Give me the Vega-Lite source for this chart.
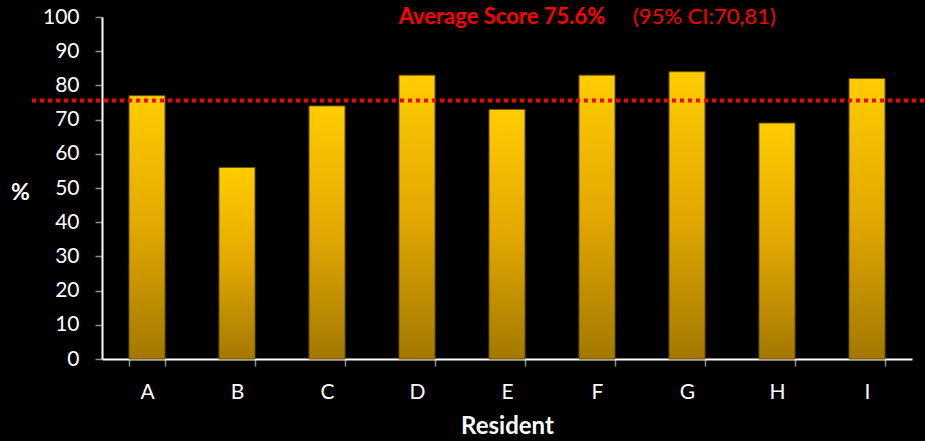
{
  "$schema": "https://vega.github.io/schema/vega-lite/v6.json",
  "width": 810,
  "height": 342,
  "autosize": {"type": "none"},
  "padding": {"left": 102, "top": 17, "right": 13, "bottom": 82},
  "background": "#000000",
  "config": {
    "view": {"stroke": null},
    "font": "Lato",
    "axis": {
      "grid": false,
      "labelColor": "#FFFFFF",
      "labelFont": "Lato",
      "labelFontSize": 21,
      "labelOverlap": false,
      "labelFlush": false,
      "domainColor": "#FFFFFF",
      "domainWidth": 2,
      "tickColor": "#8C8C8C",
      "tickSize": 7,
      "tickWidth": 1.5,
      "titleColor": "#FFFFFF",
      "titleFont": "Lato",
      "titleFontWeight": "bold"
    },
    "axisX": {
      "titleFontSize": 24,
      "titlePadding": 12,
      "labelAngle": 0,
      "labelPadding": 15,
      "tickBand": "extent"
    },
    "axisY": {
      "tickCount": 11,
      "titleAngle": 0,
      "titleFontSize": 23,
      "titleX": -82,
      "titleY": 175,
      "titleAlign": "center",
      "titleBaseline": "middle",
      "labelPadding": 16
    }
  },
  "datasets": {
    "scores": [
      {"resident": "A", "score": 77},
      {"resident": "B", "score": 56},
      {"resident": "C", "score": 74},
      {"resident": "D", "score": 83},
      {"resident": "E", "score": 73},
      {"resident": "F", "score": 83},
      {"resident": "G", "score": 84},
      {"resident": "H", "score": 69},
      {"resident": "I", "score": 82}
    ],
    "summary": [
      {"average": 75.6, "headline": "Average Score 75.6%", "interval": "(95% CI:70,81)", "anchor": "E", "anchor2": "G", "top": 100}
    ]
  },
  "layer": [
    {
      "data": {"name": "scores"},
      "mark": {
        "type": "bar",
        "stroke": "#6b5000",
        "strokeWidth": 1,
        "color": {
          "gradient": "linear",
          "x1": 0, "y1": 0, "x2": 0, "y2": 1,
          "stops": [
            {"offset": 0, "color": "#FFCC00"},
            {"offset": 0.5, "color": "#E2A800"},
            {"offset": 1, "color": "#A27800"}
          ]
        }
      },
      "encoding": {
        "x": {
          "field": "resident",
          "type": "nominal",
          "sort": null,
          "title": "Resident",
          "scale": {"paddingInner": 0.6, "paddingOuter": 0.3}
        },
        "y": {
          "field": "score",
          "type": "quantitative",
          "title": "%",
          "scale": {"domain": [0, 100], "nice": false}
        }
      }
    },
    {
      "data": {"name": "summary"},
      "mark": {
        "type": "rule",
        "color": "#FF0000",
        "strokeWidth": 4,
        "strokeDash": [4, 4],
        "clip": false
      },
      "encoding": {
        "y": {"field": "average", "type": "quantitative", "title": "%"},
        "x": {"value": -70},
        "x2": {"value": 823}
      }
    },
    {
      "data": {"name": "summary"},
      "mark": {
        "type": "text",
        "color": "#FF0000",
        "font": "Lato",
        "fontSize": 22,
        "fontWeight": "bold",
        "align": "center",
        "baseline": "middle",
        "dx": -5
      },
      "encoding": {
        "x": {"field": "anchor", "type": "nominal", "title": "Resident"},
        "y": {"field": "top", "type": "quantitative", "title": "%"},
        "text": {"field": "headline"}
      }
    },
    {
      "data": {"name": "summary"},
      "mark": {
        "type": "text",
        "color": "#FF0000",
        "font": "Lato",
        "fontSize": 22,
        "fontWeight": "normal",
        "align": "left",
        "baseline": "middle",
        "dx": -54
      },
      "encoding": {
        "x": {"field": "anchor2", "type": "nominal", "title": "Resident"},
        "y": {"field": "top", "type": "quantitative", "title": "%"},
        "text": {"field": "interval"}
      }
    }
  ]
}
